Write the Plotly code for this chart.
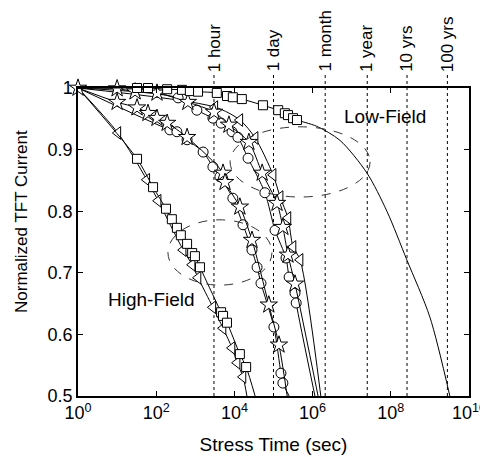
import numpy as np
import plotly.graph_objects as go

# exponents of stress time (log10 sec) and normalized current

# high-field, triangles
hf_tri_logt = [1.02, 1.76, 2.05, 2.69, 2.92, 3.07, 3.45, 3.71, 3.94, 4.07, 4.22]
hf_tri_cur = [0.927, 0.851, 0.817, 0.737, 0.713, 0.692, 0.644, 0.610, 0.578, 0.554, 0.531]
hf_tri_end = 4.32

# high-field, squares
hf_sq_logt = [1.51, 1.92, 2.25, 2.40, 2.53, 2.63, 2.79, 2.92, 2.99, 3.12, 3.66, 3.71, 3.81, 4.14, 4.30]
hf_sq_cur = [0.885, 0.839, 0.804, 0.787, 0.773, 0.761, 0.747, 0.732, 0.727, 0.709, 0.636, 0.630, 0.619, 0.568, 0.547]
hf_sq_end = 4.53

# mid group, stars
md_star_logt = [0.0, 1.0, 1.51, 1.79, 2.02, 2.28, 2.79, 3.71, 3.76, 4.14, 4.45, 4.88, 5.14]
md_star_cur = [1.0, 0.977, 0.968, 0.959, 0.951, 0.943, 0.920, 0.862, 0.847, 0.807, 0.753, 0.648, 0.583]
md_star_end = 5.35

# mid group, circles
md_circ_logt = [2.35, 2.53, 2.79, 3.20, 3.45, 3.63, 3.96, 4.22, 4.45, 4.58, 4.68, 5.01, 5.19, 5.24]
md_circ_cur = [0.932, 0.929, 0.916, 0.896, 0.872, 0.856, 0.821, 0.778, 0.737, 0.709, 0.683, 0.612, 0.537, 0.521]
md_circ_end = 5.40

# second group, triangles
g2_tri_logt = [3.50, 4.14, 4.53, 4.99, 5.17, 5.37, 5.50, 5.68]
g2_tri_cur = [0.969, 0.948, 0.919, 0.859, 0.823, 0.789, 0.742, 0.721]
g2_tri_end = 6.21

# second group, stars
g2_star_logt = [1.0, 1.46, 2.02, 2.81, 3.48, 3.86, 4.37, 4.71, 5.09, 5.24, 5.37, 5.55]
g2_star_cur = [0.999, 0.994, 0.992, 0.977, 0.961, 0.940, 0.912, 0.862, 0.813, 0.774, 0.729, 0.682]
g2_star_end = 6.14

# second group, circles
g2_circ_logt = [2.56, 3.04, 3.45, 3.66, 3.94, 4.09, 4.35, 4.78, 5.04, 5.32, 5.40, 5.55, 5.58]
g2_circ_cur = [0.984, 0.964, 0.951, 0.943, 0.929, 0.920, 0.886, 0.830, 0.769, 0.724, 0.693, 0.667, 0.651]
g2_circ_end = 6.06

# low-field, squares + fitted extrapolation
lf_sq_logt = [1.51, 1.79, 2.28, 2.66, 2.86, 3.07, 3.55, 3.81, 3.96, 4.19, 4.73, 5.12, 5.29, 5.37, 5.50, 5.60]
lf_sq_cur = [1.0, 1.0, 0.998, 0.997, 0.995, 0.994, 0.992, 0.987, 0.985, 0.982, 0.972, 0.964, 0.959, 0.956, 0.951, 0.948]
lf_fit_logt = [6.10, 6.70, 7.39, 7.90, 8.41, 9.00, 9.51]
lf_fit_cur = [0.938, 0.915, 0.862, 0.800, 0.721, 0.628, 0.5]

# reference times (sec) marked by dotted lines
event_labels = ["1 hour", "1 day", "1 month", "1 year", "10 yrs", "100 yrs"]
event_times = [3000, 1.0e5, 2.1e6, 2.5e7, 2.6e8, 2.8e9]

FONT = "Liberation Sans, Arial, sans-serif"

fig = go.Figure()


def add_series(logt, cur, tail_logt, tail_cur, symbol, size):
    lx = list(logt) + list(tail_logt)
    ly = list(cur) + list(tail_cur)
    if lx[0] != 0:
        lx = [0.0] + lx
        ly = [1.0] + ly
    fig.add_trace(go.Scatter(
        x=np.power(10.0, lx), y=ly, mode="lines",
        line=dict(color="black", width=1, shape="spline", smoothing=0.8),
        showlegend=False, hoverinfo="skip"))
    fig.add_trace(go.Scatter(
        x=np.power(10.0, logt), y=cur, mode="markers", cliponaxis=False,
        marker=dict(symbol=symbol, size=size, color="white",
                    line=dict(color="black", width=1)),
        showlegend=False))


add_series(hf_tri_logt, hf_tri_cur, [hf_tri_end], [0.5], "triangle-left", 11)
add_series(hf_sq_logt, hf_sq_cur, [hf_sq_end], [0.5], "square", 9)
add_series(md_circ_logt, md_circ_cur, [md_circ_end], [0.5], "circle", 10)
add_series(md_star_logt, md_star_cur, [md_star_end], [0.5], "star", 13)
add_series(g2_tri_logt, g2_tri_cur, [g2_tri_end], [0.5], "triangle-left", 11)
add_series(g2_circ_logt, g2_circ_cur, [g2_circ_end], [0.5], "circle", 10)
add_series(g2_star_logt, g2_star_cur, [g2_star_end], [0.5], "star", 13)
add_series(lf_sq_logt, lf_sq_cur, lf_fit_logt, lf_fit_cur, "square", 9)

# dotted time markers with rotated labels above the axes
for lab, t in zip(event_labels, event_times):
    fig.add_shape(type="line", xref="x", yref="paper", x0=t, x1=t, y0=0, y1=1.045,
                  line=dict(color="black", width=1, dash="dot"), layer="below")
    fig.add_annotation(x=np.log10(t), y=1.046, xref="x", yref="paper", text=lab,
                       textangle=-90, showarrow=False, xanchor="center", yanchor="bottom",
                       font=dict(size=17, color="black", family=FONT))

# dashed ellipses around the two groups
fig.add_shape(type="circle", xref="x", yref="y", x0=10 ** 3.89, x1=10 ** 7.47, y0=0.823, y1=0.937,
              line=dict(color="#333333", width=1, dash="dash"))
fig.add_shape(type="circle", xref="x", yref="y", x0=10 ** 2.30, x1=10 ** 4.96, y0=0.680, y1=0.786,
              line=dict(color="#333333", width=1, dash="dash"))

fig.add_annotation(x=7.84, y=0.953, text="Low-Field", showarrow=False,
                   font=dict(size=19, color="black", family=FONT))
fig.add_annotation(x=1.89, y=0.656, text="High-Field", showarrow=False,
                   font=dict(size=19, color="black", family=FONT))

# y title sits a little above the middle of the axis
fig.add_annotation(x=-0.146, y=0.568, xref="paper", yref="paper", text="Normalized TFT Current",
                   textangle=-90, showarrow=False, xanchor="center", yanchor="middle",
                   font=dict(size=17, color="black", family=FONT))

xt = [10 ** k for k in range(0, 11, 2)]
fig.update_xaxes(type="log", range=[0, 10], tickvals=xt, automargin=False,
                 ticktext=["10<sup>%d</sup>" % k for k in range(0, 11, 2)],
                 ticks="inside", ticklen=5, tickcolor="black", showgrid=False, zeroline=False,
                 showline=True, linecolor="black", linewidth=1.5, mirror="ticks",
                 tickfont=dict(size=18, color="black", family=FONT),
                 title=dict(text="Stress Time (sec)", standoff=15,
                            font=dict(size=19, color="black", family=FONT)))
fig.update_yaxes(range=[0.5, 1.0], tickvals=[0.5, 0.6, 0.7, 0.8, 0.9, 1.0], automargin=False,
                 ticktext=["0.5", "0.6", "0.7", "0.8", "0.9", "1"],
                 ticks="inside", ticklen=5, tickcolor="black", showgrid=False, zeroline=False,
                 showline=True, linecolor="black", linewidth=1.5, mirror="ticks",
                 tickfont=dict(size=18, color="black", family=FONT))

# page body adds an 8px offset, so the figure is shifted to land where the reference is
fig.update_layout(width=488, height=449, margin=dict(l=70, r=27, t=80, b=61),
                  plot_bgcolor="white", paper_bgcolor="white",
                  font=dict(family=FONT, color="black"))

fig.write_html("out.html")
